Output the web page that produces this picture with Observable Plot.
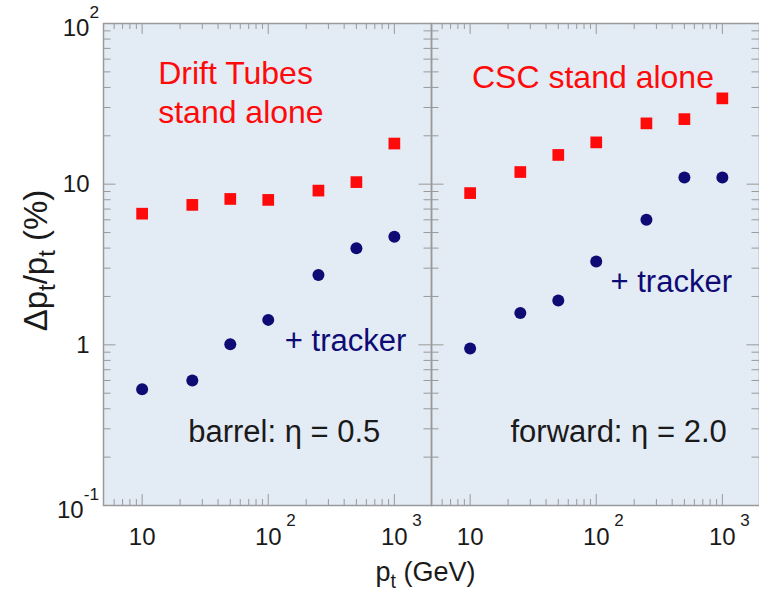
<!DOCTYPE html>
<html><head><meta charset="utf-8">
<script src="https://cdn.jsdelivr.net/npm/d3@7"></script>
<script src="https://cdn.jsdelivr.net/npm/@observablehq/plot@0.6"></script>
<style>html,body{margin:0;padding:0;background:#fff;overflow:hidden}</style>
</head><body>
<script>
// ---- data ----
const regions = ["barrel", "forward"];
const pt = [10, 25, 50, 100, 250, 500, 1000];
const barrelStandalone = [6.55, 7.43, 8.09, 7.98, 9.12, 10.3, 17.9];
const barrelTracker = [0.53, 0.60, 1.01, 1.43, 2.72, 3.99, 4.70];
const forwardStandalone = [8.8, 11.9, 15.2, 18.2, 23.9, 25.4, 34.2];
const forwardTracker = [0.95, 1.58, 1.89, 3.30, 6.01, 11.0, 11.0];

// ---- ticks ----
const xMajorTicks = [10, 100, 1000];
const xMinorTicks = [6, 7, 8, 9, 20, 30, 40, 50, 60, 70, 80, 90, 200, 300, 400, 500, 600, 700, 800, 900];
const xTickBase = ["10", "10", "10"];
const xTickExp = ["", "2", "3"];
const yMajorTicks = [0.1, 1, 10, 100];
const yMinorTicks = [0.2, 0.3, 0.4, 0.5, 0.6, 0.7, 0.8, 0.9, 2, 3, 4, 5, 6, 7, 8, 9, 20, 30, 40, 50, 60, 70, 80, 90];
const yTickLabels = ["10^{-1}", "1", "10", "10^{2}"];

// ---- texts ----
const detectorLabels = ["Drift Tubes\nstand alone", "CSC stand alone"];
const trackerLabel = "+ tracker";
const etaLabels = ["barrel: η = 0.5", "forward: η = 2.0"];
const yLabel = "Δp_{t}/p_{t} (%)";
const xLabel = "p_{t} (GeV)";

const RED = "#ff0a0a", NAVY = "#0e0b74", GRID = "#9a9a9a", BG = "#e3ebf5", INK = "#1a1a1a";
const W = 759, H = 593, mT = 23, mB = 88, mL = 102, mR = 0;
const panelW = (W - mL - mR) / 2, panelH = H - mT - mB;

const standalone = regions.flatMap((r, k) => pt.map((p, i) => ({region: r, pt: p, value: (k ? forwardStandalone : barrelStandalone)[i]})));
const tracker = regions.flatMap((r, k) => pt.map((p, i) => ({region: r, pt: p, value: (k ? forwardTracker : barrelTracker)[i]})));

const yLab = yMajorTicks.map((v, i) => ({region: "barrel", v, label: yTickLabels[i]}));
const xLab = xMajorTicks.map((v, i) => ({v, base: xTickBase[i], exp: xTickExp[i]}));

const ann = (region, text, opts) => Plot.text([{region, text}], {
  fx: "region", text: "text", frameAnchor: "top-left", textAnchor: "start", lineAnchor: "bottom", ...opts
});

const tickStyle = {stroke: GRID, strokeWidth: 1};

const chart = Plot.plot({
  width: W, height: H,
  marginTop: mT, marginBottom: mB, marginLeft: mL, marginRight: mR,
  style: {fontFamily: "'Liberation Sans', Arial, sans-serif", background: "#fff", overflow: "visible"},
  fx: {domain: regions, padding: 0, axis: null, label: null},
  x: {type: "log", domain: [4.94, 1970], axis: null},
  y: {type: "log", domain: [0.1, 100], axis: null},
  marks: [
    Plot.frame({fill: BG}),
    // inward ticks on all four sides of each panel
    Plot.tickX(xMajorTicks, {x: d => d, ...tickStyle, insetTop: panelH - 11}),
    Plot.tickX(xMinorTicks, {x: d => d, ...tickStyle, insetTop: panelH - 6}),
    Plot.tickX(xMajorTicks, {x: d => d, ...tickStyle, insetBottom: panelH - 11}),
    Plot.tickX(xMinorTicks, {x: d => d, ...tickStyle, insetBottom: panelH - 6}),
    Plot.tickY(yMajorTicks, {y: d => d, ...tickStyle, insetRight: panelW - 13}),
    Plot.tickY(yMinorTicks, {y: d => d, ...tickStyle, insetRight: panelW - 8}),
    Plot.tickY(yMajorTicks, {y: d => d, ...tickStyle, insetLeft: panelW - 13}),
    Plot.tickY(yMinorTicks, {y: d => d, ...tickStyle, insetLeft: panelW - 8}),
    // data
    Plot.dot(standalone, {fx: "region", x: "pt", y: "value", symbol: "square", r: 6.6, fill: RED}),
    Plot.dot(tracker, {fx: "region", x: "pt", y: "value", symbol: "circle", r: 6, fill: NAVY}),
    // annotations
    ann("barrel", detectorLabels[0], {fill: RED, fontSize: 32, dx: 54.7, dy: 99.7, lineHeight: 1.23}),
    ann("forward", detectorLabels[1], {fill: RED, fontSize: 32, dx: 40.5, dy: 64}),
    ann("barrel", trackerLabel, {fill: NAVY, fontSize: 31, dx: 181.3, dy: 327}),
    ann("forward", trackerLabel, {fill: NAVY, fontSize: 31, dx: 179, dy: 268.7}),
    ann("barrel", etaLabels[0], {fill: INK, fontSize: 31, dx: 84.7, dy: 418.7}),
    ann("forward", etaLabels[1], {fill: INK, fontSize: 31, dx: 79, dy: 418.7}),
    // y tick labels (left panel only)
    Plot.text(yLab.filter(d => !d.label.includes("^")), {fx: "region", y: "v", text: "label", frameAnchor: "left", textAnchor: "end", lineAnchor: "middle", dx: -14, fontSize: 24, fill: INK}),
    Plot.text(yLab.filter(d => d.label.includes("^")), {fx: "region", y: "v", text: "label", frameAnchor: "left", textAnchor: "end", lineAnchor: "middle", dx: -4.5, dy: 5, fontSize: 24, fill: INK}),
    // x tick labels (both panels)
    Plot.text(xLab, {x: "v", text: "base", frameAnchor: "bottom", textAnchor: "middle", lineAnchor: "bottom", dy: 39, fontSize: 24, fill: INK}),
    Plot.text(xLab.filter(d => d.exp), {x: "v", text: "exp", frameAnchor: "bottom", textAnchor: "start", lineAnchor: "bottom", dx: 18, dy: 20, fontSize: 17, fill: INK}),
    // axis titles
    Plot.text([{region: "barrel"}], {fx: "region", text: () => yLabel, frameAnchor: "left", rotate: -90, textAnchor: "middle", lineAnchor: "bottom", dx: -57, dy: -4, fontSize: 33, fill: INK}),
    Plot.text([{region: "barrel"}], {fx: "region", text: () => xLabel, frameAnchor: "bottom-right", textAnchor: "middle", lineAnchor: "bottom", dx: -6, dy: 75, fontSize: 27, fill: INK}),
    Plot.frame({stroke: GRID, strokeWidth: 1.5})
  ]
});
document.body.append(chart);

// turn _{..} / ^{..} markers into real sub/superscript tspans
function applyScripts(root) {
  root.querySelectorAll("text").forEach(t => {
    if (t.querySelector("tspan")) return;
    const s = t.textContent;
    if (!/[_^]\{/.test(s)) return;
    const fs = parseFloat(getComputedStyle(t).fontSize) || 16;
    t.textContent = "";
    let offset = 0;
    const add = (str, shift, small) => {
      const ts = document.createElementNS("http://www.w3.org/2000/svg", "tspan");
      ts.textContent = str;
      const d = shift - offset;
      if (d) ts.setAttribute("dy", d);
      offset = shift;
      if (small) ts.setAttribute("font-size", fs * 0.72);
      t.appendChild(ts);
    };
    const re = /([_^])\{([^}]*)\}/g;
    let last = 0, m;
    while ((m = re.exec(s))) {
      if (m.index > last) add(s.slice(last, m.index), 0, false);
      add(m[2], m[1] === "_" ? 0.26 * fs : -0.75 * fs, true);
      last = re.lastIndex;
    }
    if (last < s.length) add(s.slice(last), 0, false);
  });
}
applyScripts(chart);
</script>
</body></html>
